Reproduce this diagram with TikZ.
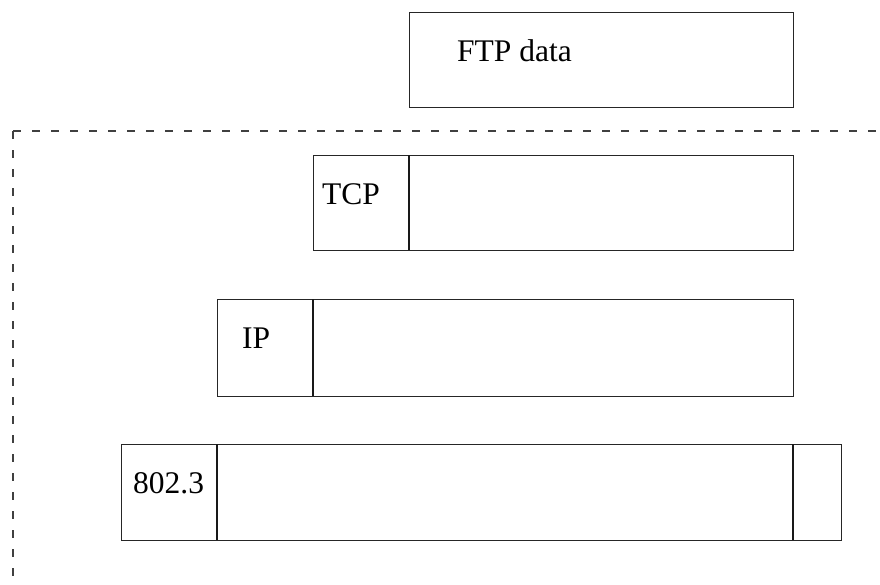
\documentclass[tikz,border=0pt]{standalone}
\usepackage{fontspec}
\setmainfont{Liberation Serif}
\begin{document}
\begin{tikzpicture}[x=1pt,y=-1pt,
  box/.style={draw=black!85,line width=1.3pt,rectangle,inner sep=0pt,anchor=north west},
  lbl/.style={anchor=base west,inner sep=0pt,font=\fontsize{31.5}{36}\selectfont},
  divline/.style={draw=black!90,line width=1.3pt},
  bordline/.style={draw=black!75,line width=1.2pt,dash pattern=on 8pt off 11pt}]
\useasboundingbox (0,0) rectangle (880,584);
% dashed boundary
\coordinate (corner) at (13,131);
\coordinate (dashR) at (880,131);
\coordinate (dashB) at (13,584);
\draw[bordline] (corner) -- (dashR);
\draw[bordline] (corner) -- (dashB);
% FTP data
\node[box,minimum width=384pt,minimum height=95pt] (ftp) at (409,12) {};
\node[lbl] (ftpt) at (457,61) {FTP data};
% TCP
\node[box,minimum width=480pt,minimum height=95pt] (tcp) at (313,155) {};
\draw[divline] (409,155) -- (409,250);
\node[lbl] (tcpt) at (322,204) {TCP};
% IP
\node[box,minimum width=576pt,minimum height=97pt] (ip) at (217,299) {};
\draw[divline] (313,299) -- (313,396);
\node[lbl] (ipt) at (242,348) {IP};
% 802.3
\node[box,minimum width=720pt,minimum height=96pt] (eth) at (121,444) {};
\draw[divline] (217,444) -- (217,540);
\draw[divline] (793,444) -- (793,540);
\node[lbl] (etht) at (133,493) {802.3};
\end{tikzpicture}
\end{document}
